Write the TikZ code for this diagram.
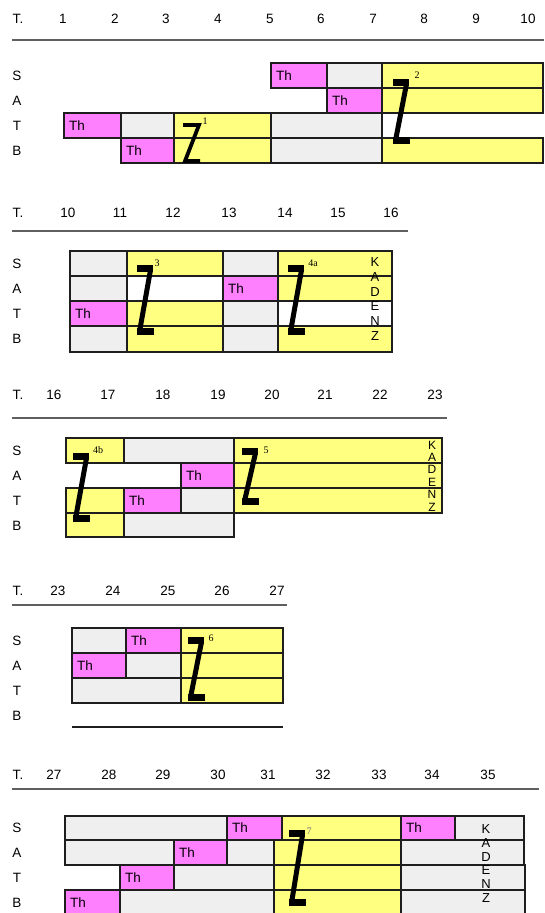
\documentclass[tikz,border=0pt]{standalone}
\usepackage{fontspec}
\setmainfont{Liberation Sans}
\newfontfamily\supfont{Liberation Serif}
\usetikzlibrary{positioning}
\definecolor{SatYellow}{RGB}{255,255,128}
\definecolor{SatPink}{RGB}{255,128,255}
\definecolor{SatGray}{RGB}{239,239,239}
\definecolor{SatEdge}{RGB}{30,30,30}
\definecolor{SatRule}{RGB}{95,95,95}
\tikzset{
  sat/cell/.style={draw=SatEdge, line width=1.3pt},
  sat/gray/.style={sat/cell, fill=SatGray},
  sat/yellow/.style={sat/cell, fill=SatYellow},
  sat/th/.style={sat/cell, fill=SatPink},
  sat/blank/.style={sat/cell, fill=white},
  sat/rule/.style={draw=SatRule, line width=1.6pt},
  sat/label/.style={font=\fontsize{13.5}{15}\selectfont, inner sep=0pt},
  sat/thtext/.style={sat/label, anchor=west},
  sat/kadenz/.style={align=center, inner sep=0pt},
  sat/sup/.style={font=\supfont\fontsize{10}{10}\selectfont, inner sep=0pt},
  sat/zstroke/.style={line width=5pt},
  sat/zthin/.style={line width=3.8pt},
  pics/sat zee/.style={code={
    \fill (0,0) rectangle (16,7);
    \fill (0,#1-7.5) rectangle (17,#1);
    \draw[sat/zstroke] (13.5,5) -- (3,#1-6);
  }}
}

\begin{document}
\begin{tikzpicture}[x=1pt,y=-1pt]
  \useasboundingbox[fill=white] (0,0) rectangle (544,913);

  % Takte 1-10
  \node[sat/label] (hd1) at (18,19) {T.};
  \foreach \x/\n in {63/1,115/2,166/3,218/4,270/5,321/6,373/7,424/8,476/9,528/10}
    \node[sat/label] (hd1-\n) at (\x,19) {\n};
  \draw[sat/rule] (12,40) -- (544,40);
  \foreach \r/\y in {S/75.5,A/100.5,T/125.5,B/150.5}
    \node[sat/label] (row1\r) at (17,\y) {\r};
  \draw[sat/th] (271,63) rectangle (327,88);
  \draw[sat/gray] (327,63) rectangle (382,88);
  \draw[sat/yellow] (382,63) rectangle (543,88);
  \draw[sat/th] (327,88) rectangle (382,113);
  \draw[sat/yellow] (382,88) rectangle (543,113);
  \draw[sat/th] (64,113) rectangle (121,138);
  \draw[sat/gray] (121,113) rectangle (174,138);
  \draw[sat/yellow] (174,113) rectangle (271,138);
  \draw[sat/gray] (271,113) rectangle (382,138);
  \draw[sat/th] (121,138) rectangle (174,163);
  \draw[sat/yellow] (174,138) rectangle (271,163);
  \draw[sat/gray] (271,138) rectangle (382,163);
  \draw[sat/yellow] (382,138) rectangle (543,163);
  \node[sat/thtext] (th1s) at (276,75.5) {Th};
  \node[sat/thtext] (th1a) at (332,100.5) {Th};
  \node[sat/thtext] (th1t) at (69,125.5) {Th};
  \node[sat/thtext] (th1b) at (126,150.5) {Th};
  \draw[sat/zthin] (183,125) -- (199,125) -- (185,161) -- (200,161);
  \node[sat/sup] (z1) at (205,121) {1};
  \pic at (393,79) {sat zee=65};
  \node[sat/sup] (z2) at (417,75) {2};

  % Takte 10-16
  \node[sat/label] (hd2) at (18,213) {T.};
  \foreach \x/\n in {68/10,120/11,173/12,229/13,285/14,338/15,391/16}
    \node[sat/label] (hd2-\n) at (\x,213) {\n};
  \draw[sat/rule] (12,231) -- (408,231);
  \foreach \r/\y in {S/263.5,A/288.5,T/313.5,B/339}
    \node[sat/label] (row2\r) at (17,\y) {\r};
  \draw[sat/gray] (70,251) rectangle (127,276);
  \draw[sat/yellow] (127,251) rectangle (223,276);
  \draw[sat/gray] (223,251) rectangle (278,276);
  \draw[sat/yellow] (278,251) rectangle (392,276);
  \draw[sat/gray] (70,276) rectangle (127,301);
  \draw[sat/blank] (127,276) rectangle (223,301);
  \draw[sat/th] (223,276) rectangle (278,301);
  \draw[sat/yellow] (278,276) rectangle (392,301);
  \draw[sat/th] (70,301) rectangle (127,326);
  \draw[sat/yellow] (127,301) rectangle (223,326);
  \draw[sat/gray] (223,301) rectangle (278,326);
  \draw[sat/blank] (278,301) rectangle (392,326);
  \draw[sat/gray] (70,326) rectangle (127,352);
  \draw[sat/yellow] (127,326) rectangle (223,352);
  \draw[sat/gray] (223,326) rectangle (278,352);
  \draw[sat/yellow] (278,326) rectangle (392,352);
  \node[sat/thtext] (th2a) at (228,288.5) {Th};
  \node[sat/thtext] (th2t) at (75,313.5) {Th};
  \pic at (137,265) {sat zee=70};
  \node[sat/sup] (z3) at (157,263) {3};
  \pic at (288,265) {sat zee=70};
  \node[sat/sup] (z4a) at (313,263) {4a};
  \node[sat/kadenz, font=\fontsize{13}{14.8}\selectfont] (kad2) at (375,299) {K\\A\\D\\E\\N\\Z};

  % Takte 16-23
  \node[sat/label] (hd3) at (18,395) {T.};
  \foreach \x/\n in {54/16,108/17,163/18,218/19,272/20,325/21,380/22,435/23}
    \node[sat/label] (hd3-\n) at (\x,395) {\n};
  \draw[sat/rule] (12,418) -- (447,418);
  \foreach \r/\y in {S/450.5,A/475.5,T/500.5,B/525.5}
    \node[sat/label] (row3\r) at (17,\y) {\r};
  \draw[sat/yellow] (66,438) rectangle (124,463);
  \draw[sat/gray] (124,438) rectangle (234,463);
  \draw[sat/yellow] (234,438) rectangle (442,463);
  \draw[sat/th] (181,463) rectangle (234,488);
  \draw[sat/yellow] (234,463) rectangle (442,488);
  \draw[sat/yellow] (66,488) rectangle (124,513);
  \draw[sat/th] (124,488) rectangle (181,513);
  \draw[sat/gray] (181,488) rectangle (234,513);
  \draw[sat/yellow] (234,488) rectangle (442,513);
  \draw[sat/yellow] (66,513) rectangle (124,537);
  \draw[sat/gray] (124,513) rectangle (234,537);
  \node[sat/thtext] (th3a) at (186,475.5) {Th};
  \node[sat/thtext] (th3t) at (129,500.5) {Th};
  \pic at (73,453) {sat zee=69};
  \node[sat/sup] (z4b) at (98,450) {4b};
  \pic at (242,448) {sat zee=57};
  \node[sat/sup] (z5) at (266,450) {5};
  \node[sat/kadenz, font=\fontsize{12}{12.4}\selectfont] (kad3) at (432,476) {K\\A\\D\\E\\N\\Z};

  % Takte 23-27
  \node[sat/label] (hd4) at (18,591) {T.};
  \foreach \x/\n in {58/23,113/24,168/25,222/26,277/27}
    \node[sat/label] (hd4-\n) at (\x,591) {\n};
  \draw[sat/rule] (12,605) -- (287,605);
  \foreach \r/\y in {S/640.5,A/665.5,T/690.5,B/716}
    \node[sat/label] (row4\r) at (17,\y) {\r};
  \draw[sat/gray] (72,628) rectangle (126,653);
  \draw[sat/th] (126,628) rectangle (181,653);
  \draw[sat/yellow] (181,628) rectangle (283,653);
  \draw[sat/th] (72,653) rectangle (126,678);
  \draw[sat/gray] (126,653) rectangle (181,678);
  \draw[sat/yellow] (181,653) rectangle (283,678);
  \draw[sat/gray] (72,678) rectangle (181,703);
  \draw[sat/yellow] (181,678) rectangle (283,703);
  \draw[sat/cell] (72,727) -- (283,727);
  \node[sat/thtext] (th4s) at (131,640.5) {Th};
  \node[sat/thtext] (th4a) at (77,665.5) {Th};
  \pic at (188,637) {sat zee=64};
  \node[sat/sup] (z6) at (211,638) {6};

  % Takte 27-35
  \node[sat/label] (hd5) at (18,775) {T.};
  \foreach \x/\n in {54/27,109/28,163/29,218/30,268/31,323/32,379/33,432/34,488/35}
    \node[sat/label] (hd5-\n) at (\x,775) {\n};
  \draw[sat/rule] (12,789) -- (539,789);
  \foreach \r/\y in {S/828,A/852.5,T/877.5,B/902.5}
    \node[sat/label] (row5\r) at (17,\y) {\r};
  \draw[sat/gray] (65,816) rectangle (227,840);
  \draw[sat/th] (227,816) rectangle (282,840);
  \draw[sat/yellow] (282,816) rectangle (401,840);
  \draw[sat/th] (401,816) rectangle (455,840);
  \draw[sat/gray] (455,816) rectangle (524,840);
  \draw[sat/gray] (65,840) rectangle (174,865);
  \draw[sat/th] (174,840) rectangle (227,865);
  \draw[sat/gray] (227,840) rectangle (274,865);
  \draw[sat/yellow] (274,840) rectangle (401,865);
  \draw[sat/gray] (401,840) rectangle (524,865);
  \draw[sat/th] (120,865) rectangle (174,890);
  \draw[sat/gray] (174,865) rectangle (274,890);
  \draw[sat/yellow] (274,865) rectangle (401,890);
  \draw[sat/gray] (401,865) rectangle (525,890);
  \draw[sat/th] (65,890) rectangle (120,915);
  \draw[sat/gray] (120,890) rectangle (274,915);
  \draw[sat/yellow] (274,890) rectangle (401,915);
  \draw[sat/gray] (401,890) rectangle (525,915);
  \node[sat/thtext] (th5s1) at (232,828) {Th};
  \node[sat/thtext] (th5s2) at (406,828) {Th};
  \node[sat/thtext] (th5a) at (179,852.5) {Th};
  \node[sat/thtext] (th5t) at (125,877.5) {Th};
  \node[sat/thtext] (th5b) at (70,902.5) {Th};
  \pic at (289,830) {sat zee=76};
  \node[sat/sup, text=black!55] (z7) at (309,831) {7};
  \node[sat/kadenz, font=\fontsize{13}{13.8}\selectfont] (kad5) at (486,863.5) {K\\A\\D\\E\\N\\Z};
\end{tikzpicture}
\end{document}
